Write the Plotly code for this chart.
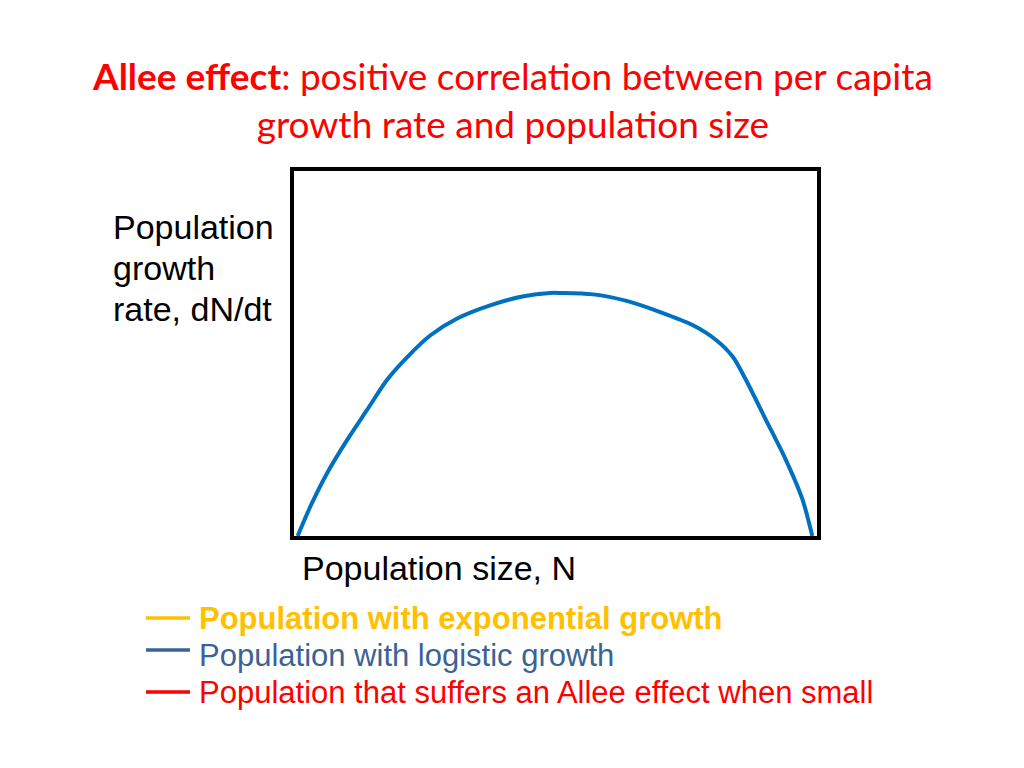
import plotly.graph_objects as go

# Curve data (population size N vs growth rate dN/dt)
pop_size = [0.7, 3.2, 6.4, 10.2, 14.0, 17.8, 21.7, 26.1, 31.2, 37.5, 43.9, 49.0, 50.9,
            57.2, 63.6, 69.9, 76.2, 80.7, 83.9, 86.4, 90.2, 94.0, 97.2, 99.1]
growth_rate = [0.0, 0.083, 0.174, 0.264, 0.346, 0.428, 0.491, 0.550, 0.596, 0.632, 0.657, 0.666, 0.666,
               0.662, 0.644, 0.614, 0.578, 0.537, 0.491, 0.428, 0.319, 0.210, 0.101, 0.0]

title_bold = "Allee effect"
title_rest = ": positive correlation between per capita<br>growth rate and population size"
y_label_lines = ["Population", "growth", "rate, dN/dt"]
x_label = "Population size, N"
legend_labels = ["Population with exponential growth",
                 "Population with logistic growth",
                 "Population that suffers an Allee effect when small"]
legend_colors = ["#FFC000", "#3A6396", "#FF0000"]
legend_bold = [True, False, False]

W, H = 1024, 768
OFF = 8  # page body margin
def px(x):
    return (x - OFF) / W
def py(y):
    return 1 - (y - OFF) / H

fig = go.Figure()
fig.add_trace(go.Scatter(x=pop_size, y=growth_rate, mode="lines",
                         line=dict(color="#0070C0", width=4, shape="spline", smoothing=0.8),
                         showlegend=False, hoverinfo="skip"))

fig.update_layout(
    width=W, height=H,
    margin=dict(l=0, r=0, t=0, b=0),
    paper_bgcolor="white", plot_bgcolor="white",
    showlegend=False,
    xaxis=dict(domain=[px(294), px(817)], range=[0, 100], showgrid=False, zeroline=False,
               showticklabels=False, ticks="", showline=True, linecolor="black", linewidth=3.5,
               mirror=True, fixedrange=True),
    yaxis=dict(domain=[py(536), py(171)], range=[0, 1], showgrid=False, zeroline=False,
               showticklabels=False, ticks="", showline=True, linecolor="black", linewidth=3.5,
               mirror=True, fixedrange=True),
)

annotations = []
annotations.append(dict(x=px(512), y=py(100), xref="paper", yref="paper",
                        text="<b>" + title_bold + "</b>" + title_rest,
                        showarrow=False, xanchor="center", yanchor="middle", align="center",
                        font=dict(family="Lato", size=37, color="#FF0000")))
for line, yy in zip(y_label_lines, [227, 268, 309]):
    annotations.append(dict(x=px(111), y=py(yy), xref="paper", yref="paper", text=line,
                            showarrow=False, xanchor="left", yanchor="middle", align="left",
                            font=dict(family="Liberation Sans", size=34, color="black")))
annotations.append(dict(x=px(300), y=py(568), xref="paper", yref="paper", text=x_label,
                        showarrow=False, xanchor="left", yanchor="middle", align="left",
                        font=dict(family="Liberation Sans", size=34, color="black")))

shapes = []
leg_y = [618, 655, 692]
line_y = [618, 650, 692]
for lab, col, b, ty, ly in zip(legend_labels, legend_colors, legend_bold, leg_y, line_y):
    annotations.append(dict(x=px(197), y=py(ty), xref="paper", yref="paper",
                            text=("<b>" + lab + "</b>") if b else lab,
                            showarrow=False, xanchor="left", yanchor="middle", align="left",
                            font=dict(family="Liberation Sans", size=31, color=col)))
    shapes.append(dict(type="line", xref="paper", yref="paper",
                       x0=px(146), x1=px(190), y0=py(ly), y1=py(ly),
                       line=dict(color=col, width=3.5)))

fig.update_layout(annotations=annotations, shapes=shapes)
fig.write_html("out.html")
